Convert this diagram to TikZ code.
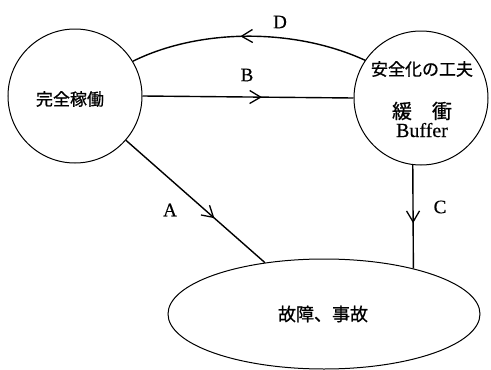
\documentclass[tikz,border=0pt]{standalone}
\usepackage{fontspec}
\setmainfont[FakeBold=0.4]{Liberation Serif}
\newfontfamily\cjk[FakeBold=0.8]{Noto Sans CJK JP}
\usetikzlibrary{shapes.geometric,decorations.markings}
\begin{document}
\begin{tikzpicture}[x=1pt,y=-1pt,
  blob/.style={draw,circle,line width=1pt,minimum size=134pt,inner sep=0pt},
  oval/.style={draw,ellipse,line width=1pt,minimum width=312pt,minimum height=110pt,inner sep=0pt},
  conn/.style={line width=1.4pt},
  midarrow/.style={postaction={decorate},decoration={markings,
     mark=at position #1 with {\draw[line width=1.3pt,line join=miter] (-11pt,-6.5pt) -- (0pt,0pt) -- (-11pt,6.5pt);}}},
  cjktext/.style={font=\cjk\fontsize{17}{20}\selectfont,inner sep=0pt},
  lbl/.style={font=\fontsize{19}{21}\selectfont,inner sep=0pt}]
\useasboundingbox (0,0) rectangle (491,370);
\node[blob] (L) at (75,96) {};
\node[blob] (R) at (421,98) {};
\node[oval] (E) at (324,314) {};
\node[cjktext] (t1) at (70,99) {完全稼働};
\node[cjktext] (t2) at (422,69) {安全化の工夫};
\node[inner sep=0pt,font=\cjk\fontsize{20}{22}\selectfont] (t3) at (422,111) {緩\hspace{1em}衝};
\node[inner sep=0pt,font=\fontsize{20}{22}\selectfont,anchor=base] (t4) at (422,137) {Buffer};
\node[cjktext,font=\cjk\fontsize{18}{20}\selectfont] (t5) at (323,314) {故障、事故};
% connectors
\draw[conn,midarrow=0.56] (L.0) -- (R.180);
\draw[conn,midarrow=0.53] (R.146) .. controls (295,28) and (200,28) .. (L.31);
\draw[conn,midarrow=0.63] (L.-41) -- (E.139.6);
\draw[conn,midarrow=0.55] (R.263) -- (E.27.6);
% labels
\node[lbl] (lD) at (280,22) {D};
\node[lbl] (lB) at (247,75) {B};
\node[lbl] (lA) at (170,210) {A};
\node[lbl] (lC) at (440,207) {C};
\end{tikzpicture}
\end{document}
